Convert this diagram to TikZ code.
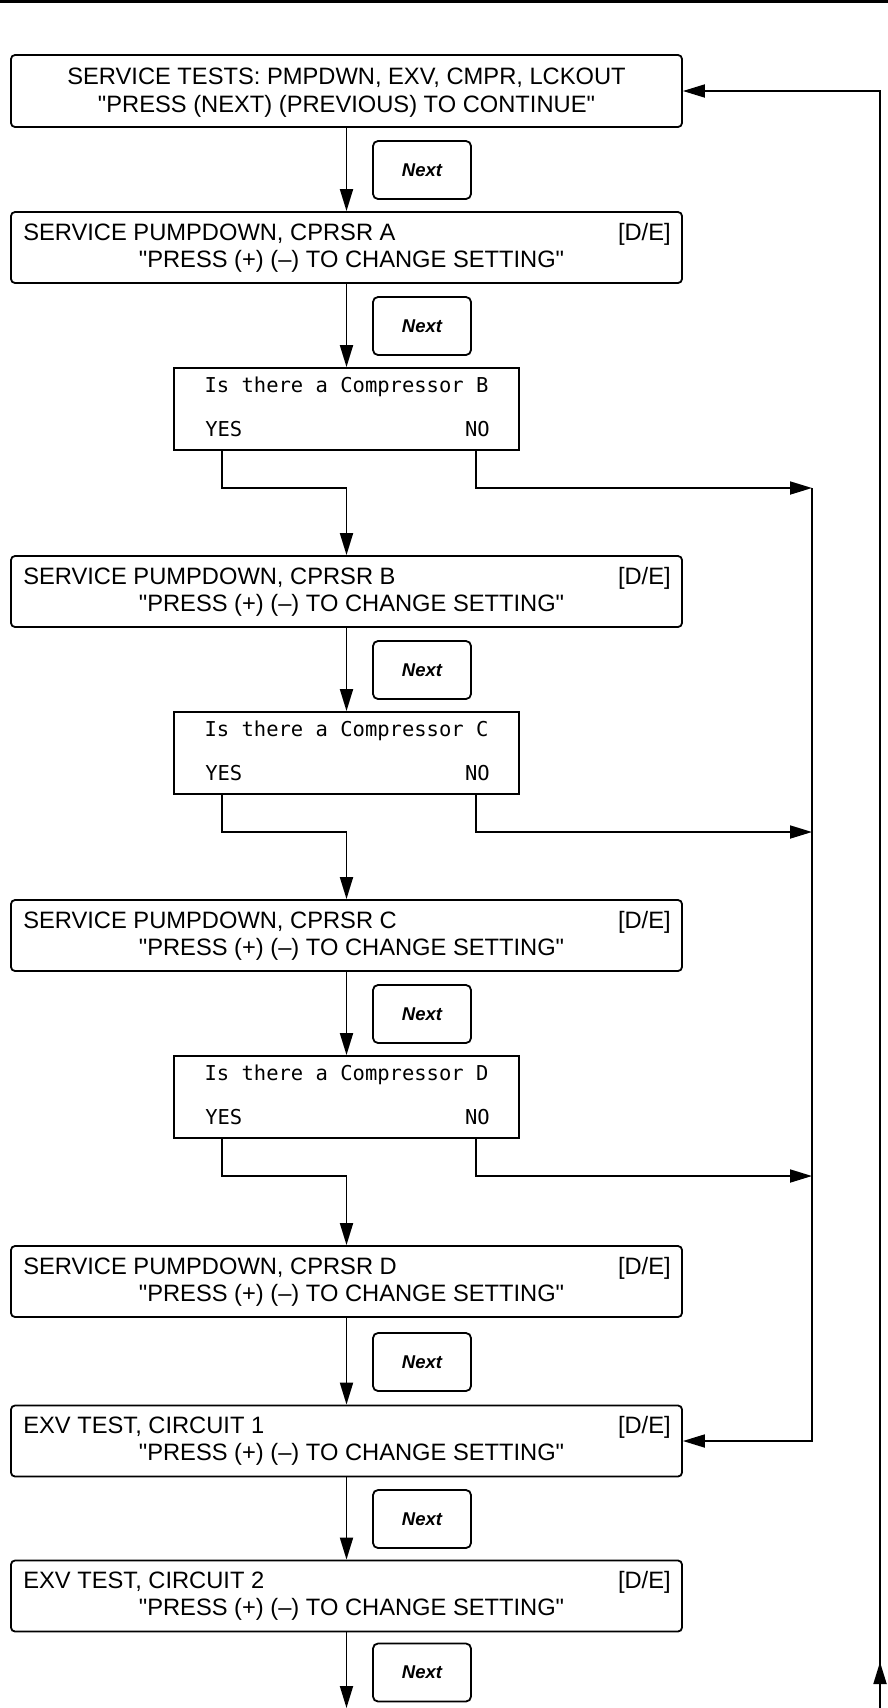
\documentclass[tikz,border=0pt]{standalone}
\usepackage{fontspec}
\setmainfont{Liberation Sans}[Ligatures=TeXOff]
\newfontfamily\lcdfont{DejaVu Sans Mono}
\usetikzlibrary{arrows.meta}
\tikzset{
 menubox/.style={draw, line width=1.8pt, rounded corners=4pt, minimum width=671pt, minimum height=71pt, inner sep=0pt},
 nextbox/.style={draw, line width=1.8pt, rounded corners=5pt, minimum width=98pt, minimum height=58pt, inner sep=0pt, font=\fontsize{18.5}{20}\selectfont\bfseries\itshape},
 decbox/.style={draw, line width=1.8pt, minimum width=345pt, minimum height=82pt, inner sep=0pt},
 boxtxt/.style={inner sep=0pt, font=\fontsize{23.7}{28}\selectfont},
 dectxt/.style={inner sep=0pt, font=\lcdfont\fontsize{20.5}{24}\selectfont},
 conn/.style={line width=1.8pt},
 arr/.style={conn, -{Triangle[length=22pt,width=13pt]}},
}
\begin{document}
\begin{tikzpicture}[x=1pt,y=-1pt]
\useasboundingbox (0,0) rectangle (888,1708);
\draw[line width=3pt] (0,1.5) -- (888,1.5);

% menu boxes
\node[menubox, minimum height=72pt] (b1) at (346.5,91) {};
\node[boxtxt, anchor=base] (b1l1) at ([yshift=-30pt]b1.north) {SERVICE TESTS: PMPDWN, EXV, CMPR, LCKOUT};
\node[boxtxt, anchor=base] (b1l2) at ([yshift=-58pt]b1.north) {"PRESS (NEXT) (PREVIOUS) TO CONTINUE"};

\foreach \n/\y/\t in {b2/247.5/{SERVICE PUMPDOWN, CPRSR A},
                      b3/591.5/{SERVICE PUMPDOWN, CPRSR B},
                      b4/935.5/{SERVICE PUMPDOWN, CPRSR C},
                      b5/1281.5/{SERVICE PUMPDOWN, CPRSR D},
                      b6/1441/{EXV TEST, CIRCUIT 1},
                      b7/1596/{EXV TEST, CIRCUIT 2}}{
  \node[menubox] (\n) at (346.5,\y) {};
  \node[boxtxt, anchor=base west] (\n l1) at ([xshift=13pt,yshift=-29pt]\n.north west) {\t};
  \node[boxtxt, anchor=base east] (\n de) at ([xshift=-12pt,yshift=-29pt]\n.north east) {[D/E]};
  \node[boxtxt, anchor=base] (\n l2) at ([xshift=5pt,yshift=-56pt]\n.north) {"PRESS (+) (–) TO CHANGE SETTING"};
}

% Next buttons
\foreach \n/\y in {n1/170,n2/326,n3/670,n4/1014,n5/1362,n6/1519,n7/1672.5}{
  \node[nextbox] (\n) at (422,\y) {Next};
}

% decision boxes
\foreach \n/\y/\c in {dB/409/B,dC/753/C,dD/1097/D}{
  \node[decbox] (\n) at (346.5,\y) {};
  \node[dectxt, anchor=base] (\n q) at ([yshift=-25pt]\n.north) {Is there a Compressor \c};
  \node[dectxt, anchor=base west] (\n y) at ([xshift=32pt,yshift=-69pt]\n.north west) {YES};
  \node[dectxt, anchor=base east] (\n n) at ([xshift=-30pt,yshift=-69pt]\n.north east) {NO};
}

% junction coordinates
\coordinate (jB) at (346.5,488);
\coordinate (jC) at (346.5,832);
\coordinate (jD) at (346.5,1176);
\coordinate (kB) at (812,488);
\coordinate (kC) at (812,832);
\coordinate (kD) at (812,1176);
\coordinate (bot) at (346.5,1708);
\coordinate (lb) at (880,1708);
\coordinate (upA) at (880,1698);
\coordinate (upB) at (880,1662);

% main flow
\draw[arr] (b1) -- (b2);
\draw[arr] (b2) -- (dB);
\draw[arr] ([xshift=49pt]dB.south west) |- (jB) -- (b3.north);
\draw[arr] ([xshift=-44pt]dB.south east) |- (kB);
\draw[arr] (b3) -- (dC);
\draw[arr] ([xshift=49pt]dC.south west) |- (jC) -- (b4.north);
\draw[arr] ([xshift=-44pt]dC.south east) |- (kC);
\draw[arr] (b4) -- (dD);
\draw[arr] ([xshift=49pt]dD.south west) |- (jD) -- (b5.north);
\draw[arr] ([xshift=-44pt]dD.south east) |- (kD);
\draw[arr] (b5) -- (b6);
\draw[arr] (b6) -- (b7);
\draw[arr] (b7) -- (bot);

% right-hand lines
\draw[arr] (kB) |- (b6.east);
\draw[arr] (lb) |- (b1.east);
\draw[arr] (upA) -- (upB);
\end{tikzpicture}
\end{document}
